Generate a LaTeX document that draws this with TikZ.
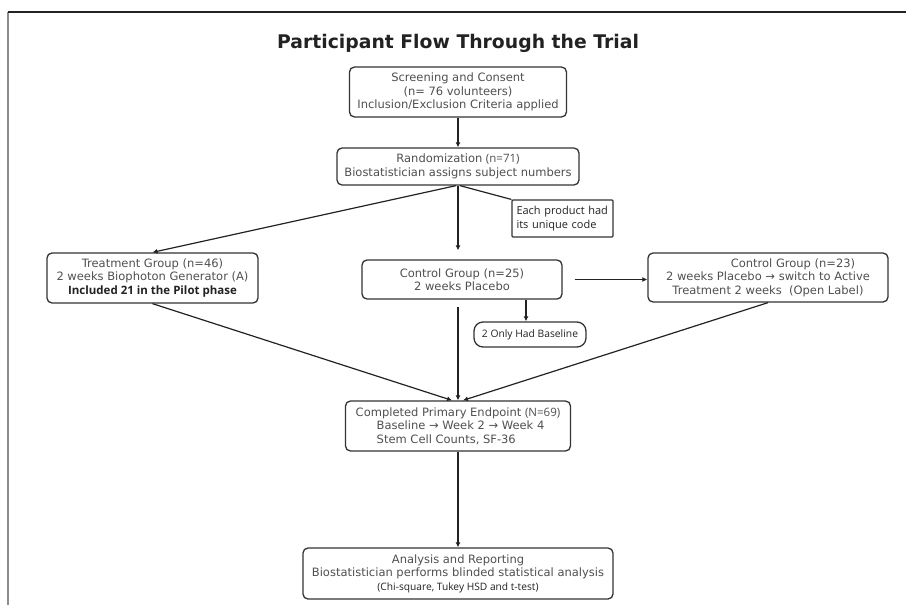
\documentclass[tikz,border=0pt]{standalone}
\usepackage{fontspec}
\setmainfont{DejaVu Sans}
\newfontfamily\altfont{Open Sans}
\usetikzlibrary{arrows.meta,calc}
\definecolor{Ink}{HTML}{222222}
\definecolor{Edge}{HTML}{333333}
\definecolor{TextGray}{HTML}{505050}
\definecolor{FrameGray}{HTML}{8C8C8C}
\tikzset{
  stage/.style={
    draw=Edge, line width=1.3pt, rounded corners=5pt, fill=white,
    align=center, text=TextGray, inner sep=0pt,
    font=\fontsize{11.5}{13.5}\selectfont
  },
  memo/.style={
    draw=Edge, line width=1.1pt, rounded corners=1pt, fill=white,
    align=left, text=Ink, inner sep=0pt,
    font=\altfont\fontsize{11}{14}\selectfont
  },
  pill/.style={
    draw=Edge, line width=1.3pt, rounded corners=9pt, fill=white,
    text=Ink, inner sep=0pt, font=\altfont\fontsize{10.3}{12}\selectfont
  },
  flow/.style={-{Latex[length=5pt,width=5pt]}, line width=1.2pt, draw=Ink},
  link/.style={line width=1.2pt, draw=Ink}
}

\begin{document}
\begin{tikzpicture}[x=1pt,y=-1pt]
    \useasboundingbox (0,0) rectangle (906,605);
    \draw[line width=1.5pt,FrameGray] (8,605) -- (8,12);
    \draw[line width=1.5pt,Ink] (8,12) -- (906,12);
    \node[text=Ink,font=\bfseries\fontsize{18.8}{22}\selectfont] (title) at (458,43) {Participant Flow Through the Trial};
    \node[stage,minimum width=217,minimum height=50] (scr) at (458,92) {Screening and Consent\\(n= 76 volunteers)\\Inclusion/Exclusion Criteria applied};
    \node[stage,minimum width=242,minimum height=37] (rnd) at (458,166.5) {Randomization {\altfont(n=71)}\\Biostatistician assigns subject numbers};
    \node[memo,minimum width=101,minimum height=37,text width=92,align=left] (note) at (562.5,218.5) {Each product had\\its unique code};
    \node[stage,minimum width=211,minimum height=50] (trt) at (152.5,278) {Treatment Group (n=46)\\2 weeks Biophoton Generator (A)\\{\color{Ink}\altfont\bfseries\fontsize{11.5}{13.5}\selectfont Included 21 in the Pilot phase}};
    \node[stage,minimum width=200,minimum height=39] (ctl) at (462,279.5) {Control Group (n=25)\\2 weeks Placebo};
    \node[stage,minimum width=240,minimum height=49] (ctlx) at (768,277.5) {\hspace*{50pt}Control Group (n=23)\\2 weeks Placebo → switch to Active\\Treatment 2 weeks\ \ (Open Label)};
    \node[pill,minimum width=112,minimum height=25] (base) at (530,334.5) {2 Only Had Baseline};
    \node[stage,minimum width=225,minimum height=50,align=left] (done) at (458,426) {Completed Primary Endpoint {\altfont(N=69)}\\\hspace*{21pt}Baseline → Week 2 → Week 4\\\hspace*{21pt}Stem Cell Counts, SF-36};
    \node[stage,minimum width=310,minimum height=51] (ana) at (458,573.5) {Analysis and Reporting\\Biostatistician performs blinded statistical analysis\\{\color{Ink}\altfont\fontsize{10.2}{13.5}\selectfont (Chi-square, Tukey HSD and t-test)}};
    \draw[flow] (scr) -- (rnd);
    \draw[flow] ([xshift=-2pt]rnd.south) -- (trt.north);
    \draw[link] ([xshift=2pt]rnd.south) -- (note.north west);
    \draw[flow,shorten >=9pt] (rnd.south) -- (rnd.south |- ctl.north);
    \draw[flow,shorten <=12pt] (ctl.east) -- (ctl.east -| ctlx.west);
    \draw[flow] ([xshift=-4pt]ctl.south -| base.north) -- ([xshift=-4pt]base.north);
    \draw[flow,shorten <=7pt] (rnd.south |- ctl.south) -- (done.north);
    \draw[flow] (trt.south) -- ([xshift=-6pt]done.north);
    \draw[flow] (ctlx.south) -- ([xshift=5pt]done.north);
    \draw[flow] (done) -- (ana);
\end{tikzpicture}
\end{document}
